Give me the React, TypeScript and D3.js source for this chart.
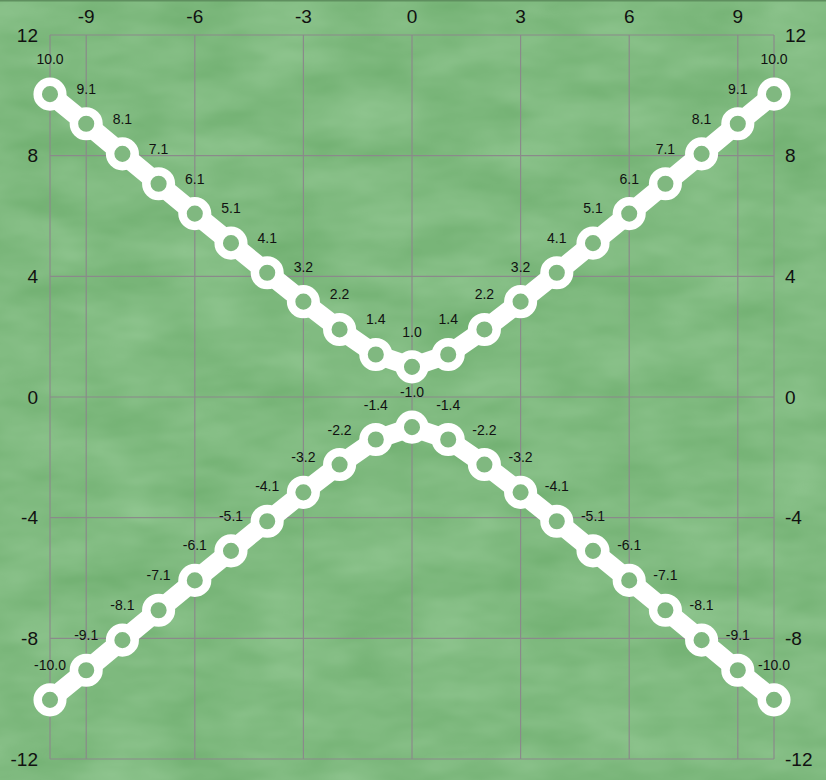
import React from 'react';
import * as d3 from 'd3';

// chart data
const xValues = [-10, -9, -8, -7, -6, -5, -4, -3, -2, -1, 0, 1, 2, 3, 4, 5, 6, 7, 8, 9, 10];
const upperValues = [10.04, 9.06, 8.06, 7.07, 6.08, 5.1, 4.12, 3.16, 2.24, 1.41, 1.0, 1.41, 2.24, 3.16, 4.12, 5.1, 6.08, 7.07, 8.06, 9.06, 10.04];
const lowerValues = [-10.04, -9.06, -8.06, -7.07, -6.08, -5.1, -4.12, -3.16, -2.24, -1.41, -1.0, -1.41, -2.24, -3.16, -4.12, -5.1, -6.08, -7.07, -8.06, -9.06, -10.04];
const xTickLabels = [-9, -6, -3, 0, 3, 6, 9];
const yTickLabels = [12, 8, 4, 0, -4, -8, -12];

const width = 826;
const height = 780;
const margin = { top: 35, right: 52, bottom: 21, left: 50 };

const font = '"Liberation Sans", Arial, sans-serif';

const App: React.FC = () => {
  const x = d3.scaleLinear().domain([-10, 10]).range([margin.left, width - margin.right]);
  const y = d3.scaleLinear().domain([-12, 12]).range([height - margin.bottom, margin.top]);

  const line = d3
    .line<number>()
    .x((_, i) => x(xValues[i]))
    .y(d => y(d));

  // plain hyphen minus, like the reference
  const fmt = (v: number) => v.toFixed(1);
  const series = [upperValues, lowerValues];
  const xGrid = [-10, ...xTickLabels, 10];

  return (
    <div style={{ position: 'absolute', left: 0, top: 0 }}>
      <svg width={width} height={height} style={{ display: 'block' }}>
        <defs>
          <filter id="felt" x="0" y="0" width="100%" height="100%" colorInterpolationFilters="sRGB">
            <feTurbulence type="fractalNoise" baseFrequency="0.012 0.03" numOctaves={3} seed={4} result="noise" />
            <feColorMatrix
              in="noise"
              type="matrix"
              values="0.14 0 0 0 0.43  0.1 0 0 0 0.68  0.14 0 0 0 0.43  0 0 0 0 1"
            />
          </filter>
        </defs>
        <rect width={width} height={height} fill="#80ba80" />
        <rect width={width} height={height} filter="url(#felt)" />
        <rect width={width} height={1.5} fill="#5f8f5f" />

        {/* grid */}
        <g stroke="#8a8a8a" strokeWidth={1.2}>
          {xGrid.map(v => (
            <line key={'gx' + v} x1={x(v)} x2={x(v)} y1={y(12)} y2={y(-12)} />
          ))}
          {yTickLabels.map(v => (
            <line key={'gy' + v} x1={x(-10)} x2={x(10)} y1={y(v)} y2={y(v)} />
          ))}
        </g>

        {/* tick labels */}
        <g fontFamily={font} fontSize={19} fill="#111">
          {xTickLabels.map(v => (
            <text key={'tx' + v} x={x(v)} y={16} textAnchor="middle" dominantBaseline="central">
              {v}
            </text>
          ))}
          {yTickLabels.map(v => (
            <text key={'tl' + v} x={x(-10) - 12} y={y(v)} textAnchor="end" dominantBaseline="central">
              {v}
            </text>
          ))}
          {yTickLabels.map(v => (
            <text key={'tr' + v} x={x(10) + 11} y={y(v)} textAnchor="start" dominantBaseline="central">
              {v}
            </text>
          ))}
        </g>

        {/* series */}
        {series.map((values, si) => (
          <g key={'s' + si}>
            <path
              d={line(values) || ''}
              fill="none"
              stroke="#fff"
              strokeWidth={19}
              strokeLinejoin="round"
              strokeLinecap="round"
            />
            {values.map((v, i) => (
              <circle key={i} cx={x(xValues[i])} cy={y(v)} r={12.3} fill="#80b880" stroke="#fff" strokeWidth={8.5} />
            ))}
          </g>
        ))}

        {/* data labels */}
        <g fontFamily={font} fontSize={14} fill="#111">
          {series.map((values, si) =>
            values.map((v, i) => (
              <text
                key={'l' + si + '-' + i}
                x={x(xValues[i])}
                y={y(v) - 35}
                textAnchor="middle"
                dominantBaseline="central"
              >
                {fmt(v)}
              </text>
            ))
          )}
        </g>
      </svg>
    </div>
  );
};

export default App;
